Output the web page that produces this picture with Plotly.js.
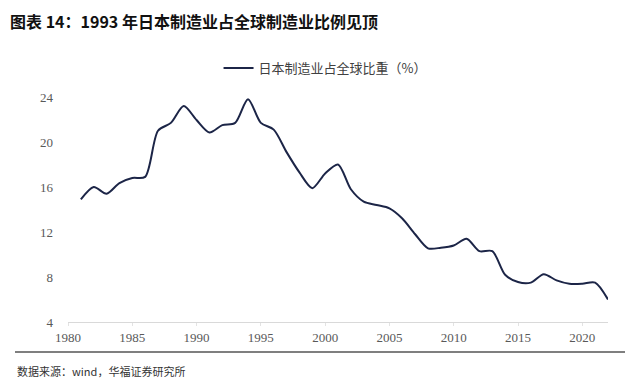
<!DOCTYPE html>
<html>
<head>
<meta charset="utf-8">
<script src="https://cdn.plot.ly/plotly-3.0.1.min.js"></script>
<style>html,body{margin:0;padding:0;background:#fff;}#chart{width:640px;height:383px;}</style>
</head>
<body>
<div id="chart"></div>
<script>
const years = [1981,1982,1983,1984,1985,1986,1987,1988,1989,1990,1991,1992,1993,1994,1995,1996,1997,1998,1999,2000,2001,2002,2003,2004,2005,2006,2007,2008,2009,2010,2011,2012,2013,2014,2015,2016,2017,2018,2019,2020,2021,2022];
const japanShare = [14.9,16.0,15.4,16.35,16.8,16.9,21.0,21.7,23.2,21.95,20.85,21.5,21.7,23.8,21.7,21.1,19.1,17.3,15.9,17.2,18.0,15.8,14.7,14.4,14.1,13.2,11.8,10.55,10.6,10.8,11.4,10.3,10.3,8.2,7.55,7.5,8.25,7.7,7.4,7.4,7.5,6.0];
const xTicks = [1980,1985,1990,1995,2000,2005,2010,2015,2020];
const yTicks = [4,8,12,16,20,24];
const seriesName = '日本制造业占全球比重（%）';
const titleText = '图表 14：1993 年日本制造业占全球制造业比例见顶';
const sourceText = '数据来源：wind，华福证券研究所';

const tickFont = {family: 'Liberation Serif, serif', size: 13, color: '#595959'};

Plotly.newPlot('chart', [{
  x: years, y: japanShare, type: 'scatter', mode: 'lines', name: seriesName,
  line: {color: '#1c2547', width: 2, shape: 'spline', smoothing: 0.8}
}], {
  width: 640, height: 383,
  paper_bgcolor: '#ffffff', plot_bgcolor: '#ffffff',
  margin: {l: 68, r: 32, t: 97, b: 61},
  title: {text: '<b>' + titleText + '</b>', x: 10/640, xanchor: 'left', y: 1 - 22/383, yanchor: 'middle',
    font: {family: 'Noto Sans CJK SC, sans-serif', size: 16, color: '#111111'}},
  showlegend: true,
  legend: {orientation: 'h', x: 0.476, xanchor: 'center', y: 1.129, yanchor: 'middle',
    font: {family: 'Noto Sans CJK SC, sans-serif', size: 13, color: '#404040'}, itemwidth: 30, bgcolor: 'rgba(0,0,0,0)'},
  xaxis: {range: [1980, 2022], tickvals: xTicks, ticktext: xTicks.map(String), showgrid: false, zeroline: false,
    showline: true, linecolor: '#d9d9d9', linewidth: 1, ticks: 'outside', ticklen: 3, tickcolor: '#e3e3e3',
    tickfont: tickFont, fixedrange: true},
  yaxis: {range: [4, 24], tickvals: yTicks, ticktext: yTicks.map(String), showgrid: false, zeroline: false,
    showline: false, ticks: '', ticklabelstandoff: 14, tickfont: tickFont, fixedrange: true},
  shapes: [{type: 'line', xref: 'paper', yref: 'paper', x0: (15-68)/540, x1: (625-68)/540, y0: (322-352)/225, y1: (322-352)/225,
    line: {color: '#555555', width: 1.5}}],
  annotations: [{text: sourceText, xref: 'paper', yref: 'paper', x: (15-68)/540, xanchor: 'left', y: (322-371)/225, yanchor: 'middle',
    showarrow: false, font: {family: 'Noto Sans CJK SC, sans-serif', size: 11, color: '#333333'}}]
}, {displayModeBar: false, staticPlot: true});
</script>
</body>
</html>
